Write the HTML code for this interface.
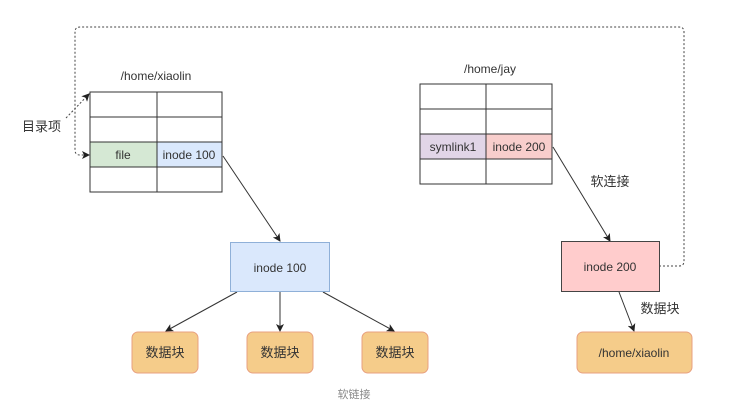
<!DOCTYPE html>
<html><head><meta charset="utf-8"><style>
html,body{margin:0;padding:0;background:#fff;}
svg{display:block;font-family:"Liberation Sans","Noto Sans CJK SC",sans-serif;}
</style></head><body>
<svg width="729" height="412" viewBox="0 0 729 412" xmlns="http://www.w3.org/2000/svg">
<defs>
<marker id="a" markerWidth="8" markerHeight="8" refX="7" refY="4" orient="auto" markerUnits="userSpaceOnUse"><path d="M0,0 L8,4 L0,8 L2,4z" fill="#222"/></marker>
</defs>
<!-- dotted loop -->
<path d="M659,266 L679,266 Q684,266 684,261 L684,32 Q684,27 679,27 L80,27 Q75,27 75,32 L75,150 Q75,155 80,155 L89,155" fill="none" stroke="#444" stroke-width="1" stroke-dasharray="2,2" marker-end="url(#a)"/>
<path d="M66,118 L89,94" fill="none" stroke="#444" stroke-width="1" stroke-dasharray="2,2" marker-end="url(#a)"/>
<text x="22" y="131" font-size="13" fill="#333">目录项</text>
<!-- left table -->
<text x="156" y="80" font-size="12" fill="#333" text-anchor="middle">/home/xiaolin</text>
<rect x="90" y="142" width="67" height="25" fill="#d5e8d4"/>
<rect x="157" y="142" width="65" height="25" fill="#dae8fc"/>
<g stroke="#333" stroke-width="1" fill="none">
<rect x="90" y="92" width="132" height="100"/>
<line x1="157" y1="92" x2="157" y2="192"/>
<line x1="90" y1="117" x2="222" y2="117"/>
<line x1="90" y1="142" x2="222" y2="142"/>
<line x1="90" y1="167" x2="222" y2="167"/>
</g>
<text x="123" y="159" font-size="12" fill="#333" text-anchor="middle">file</text>
<text x="189" y="159" font-size="12" fill="#333" text-anchor="middle">inode 100</text>
<!-- right table -->
<text x="490" y="73" font-size="12" fill="#333" text-anchor="middle">/home/jay</text>
<rect x="420" y="134" width="66" height="25" fill="#e1d5e7"/>
<rect x="486" y="134" width="66" height="25" fill="#f8cecc"/>
<g stroke="#333" stroke-width="1" fill="none">
<rect x="420" y="84" width="132" height="100"/>
<line x1="486" y1="84" x2="486" y2="184"/>
<line x1="420" y1="109" x2="552" y2="109"/>
<line x1="420" y1="134" x2="552" y2="134"/>
<line x1="420" y1="159" x2="552" y2="159"/>
</g>
<text x="453" y="151" font-size="12" fill="#333" text-anchor="middle">symlink1</text>
<text x="519" y="151" font-size="12" fill="#333" text-anchor="middle">inode 200</text>
<!-- arrows -->
<g stroke="#333" stroke-width="1" fill="none" marker-end="url(#a)">
<line x1="223" y1="156" x2="280" y2="241"/>
<line x1="553" y1="147" x2="610" y2="241"/>
<line x1="237" y1="292" x2="166" y2="331"/>
<line x1="280" y1="292" x2="280" y2="331"/>
<line x1="323" y1="292" x2="394" y2="331"/>
<line x1="619" y1="292" x2="634" y2="331"/>
</g>
<text x="610" y="186" font-size="13" fill="#333" text-anchor="middle">软连接</text>
<text x="660" y="313" font-size="13" fill="#333" text-anchor="middle">数据块</text>
<!-- inode boxes -->
<rect x="230.5" y="242.5" width="99" height="49" fill="#dae8fc" stroke="#8fb0d8"/>
<text x="280" y="272" font-size="12" fill="#333" text-anchor="middle">inode 100</text>
<rect x="561.5" y="241.5" width="98" height="50" fill="#ffcccc" stroke="#444"/>
<text x="610" y="271" font-size="12" fill="#333" text-anchor="middle">inode 200</text>
<!-- data blocks -->
<g fill="#f5cc8a" stroke="#e8a080" stroke-width="1">
<rect x="132" y="332" width="66" height="41" rx="6"/>
<rect x="247" y="332" width="66" height="41" rx="6"/>
<rect x="362" y="332" width="66" height="41" rx="6"/>
<rect x="577" y="332" width="115" height="41" rx="6"/>
</g>
<g font-size="13" fill="#333" text-anchor="middle">
<text x="165" y="357">数据块</text>
<text x="280" y="357">数据块</text>
<text x="395" y="357">数据块</text>
</g>
<text x="634" y="357" font-size="12" fill="#333" text-anchor="middle">/home/xiaolin</text>
<text x="354" y="398" font-size="11" fill="#888" text-anchor="middle">软链接</text>
</svg>
</body></html>
